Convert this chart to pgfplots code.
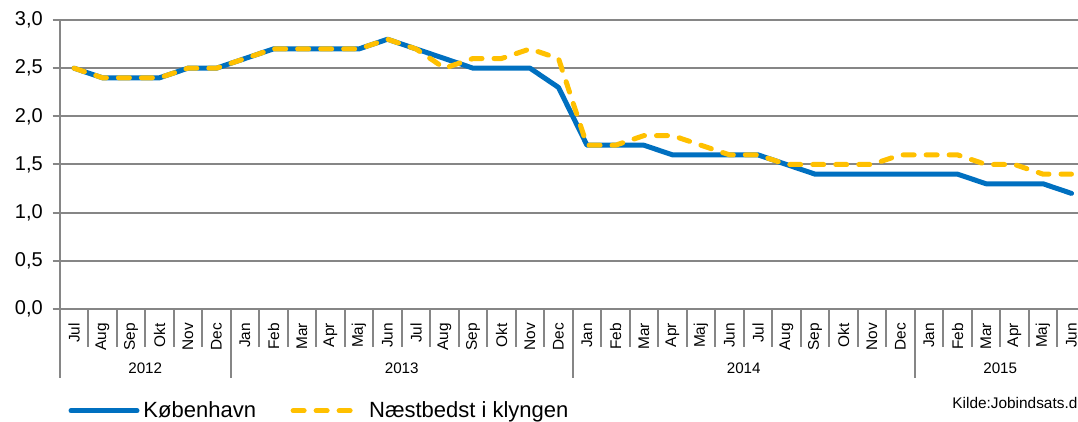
\documentclass[border=0pt]{standalone}
\usepackage{fontspec}
\setmainfont{Liberation Sans}
\usepackage{pgfplots}
\usepackage{pgfplotstable}
\pgfplotsset{compat=1.18}

\definecolor{kbhblue}{RGB}{0,112,192}
\definecolor{klyngegul}{RGB}{255,192,0}
\definecolor{gitter}{RGB}{134,134,134}

% maaned 0 = jul 2012 ... 35 = jun 2015
\pgfplotstableread{
idx kbh  klynge
0   2.5  2.5
1   2.4  2.4
2   2.4  2.4
3   2.4  2.4
4   2.5  2.5
5   2.5  2.5
6   2.6  2.6
7   2.7  2.7
8   2.7  2.7
9   2.7  2.7
10  2.7  2.7
11  2.8  2.8
12  2.7  2.7
13  2.6  2.5
14  2.5  2.6
15  2.5  2.6
16  2.5  2.7
17  2.3  2.6
18  1.7  1.7
19  1.7  1.7
20  1.7  1.8
21  1.6  1.8
22  1.6  1.7
23  1.6  1.6
24  1.6  1.6
25  1.5  1.5
26  1.4  1.5
27  1.4  1.5
28  1.4  1.5
29  1.4  1.6
30  1.4  1.6
31  1.4  1.6
32  1.3  1.5
33  1.3  1.5
34  1.3  1.4
35  1.2  1.4
}\data

\begin{document}
\begin{tikzpicture}
\begin{axis}[
    at={(29.875pt,56.5pt)}, anchor=south west,
    scale only axis, width=513pt, height=144.5pt,
    xmin=-0.5, xmax=35.5, ymin=0, ymax=3,
    axis x line*=bottom, axis y line*=left,
    axis line style={draw=gitter, line width=1pt, -},
    ytick={0,0.5,1,1.5,2,2.5,3},
    /pgf/number format/.cd, fixed, fixed zerofill, precision=1, use comma, assume math mode=true,
    /pgfplots/.cd,
    yticklabel style={font=\fontsize{10}{12}\selectfont, text=black, xshift=-1.5pt},
    ymajorgrids, major grid style={draw=gitter, line width=1pt},
    ytick style={draw=gitter, line width=1pt},
    tick align=outside, major tick length=3.5pt,
    xtick={0,...,35},
    xticklabels={Jul,Aug,Sep,Okt,Nov,Dec,Jan,Feb,Mar,Apr,Maj,Jun,Jul,Aug,Sep,Okt,Nov,Dec,Jan,Feb,Mar,Apr,Maj,Jun,Jul,Aug,Sep,Okt,Nov,Dec,Jan,Feb,Mar,Apr,Maj,Jun},
    xtick style={draw=none},
    xticklabel style={rotate=90, anchor=east, font=\fontsize{7.7}{9}\selectfont},
    clip=false,
    legend columns=2,
    legend style={at={(0.00853,-0.3519)}, anchor=west, draw=none, fill=none,
        inner sep=0pt, outer sep=0pt, font=\fontsize{11}{13}\selectfont,
        /tikz/every even column/.append style={column sep=15.3pt}},
]
\pgfplotsinvokeforeach{-0.5,0.5,...,35.5}{
  \draw[gitter, line width=1pt] (axis cs:#1,0) -- ++(0pt,-19pt);
}
\pgfplotsinvokeforeach{-0.5,5.5,17.5,29.5,35.5}{
  \draw[gitter, line width=1pt] (axis cs:#1,0) -- ++(0pt,-34.5pt);
}
\node[font=\fontsize{7.6}{9}\selectfont, yshift=-29.5pt] at (axis cs:2.5,0) {2012};
\node[font=\fontsize{7.6}{9}\selectfont, yshift=-29.5pt] at (axis cs:11.5,0) {2013};
\node[font=\fontsize{7.6}{9}\selectfont, yshift=-29.5pt] at (axis cs:23.5,0) {2014};
\node[font=\fontsize{7.6}{9}\selectfont, yshift=-29.5pt] at (axis cs:32.5,0) {2015};

\addplot[kbhblue, line width=2.5pt, line join=round, line cap=round,
  legend image code/.code={\draw[kbhblue, line width=2.5pt, line cap=round] (0pt,0pt) -- (33pt,0pt);}]
  table[x=idx, y=kbh] {\data};
\addlegendentry{København}
\addplot[klyngegul, line width=2.5pt, line join=round, line cap=round, dash pattern=on 5.5pt off 6pt,
  legend image code/.code={\draw[klyngegul, line width=2.5pt, line cap=round, dash pattern=on 5.5pt off 6pt] (0pt,0pt) -- (28.5pt,0pt); \path (34.75pt,0pt);}]
  table[x=idx, y=klynge] {\data};
\addlegendentry{Næstbedst i klyngen}
\end{axis}
\node[anchor=base west, inner sep=0pt, font=\fontsize{7.7}{9}\selectfont] at (476pt,6.5pt) {Kilde:Jobindsats.dk};
\pgfresetboundingbox
\path[use as bounding box] (0pt,0pt) rectangle (539pt,211pt);
\end{tikzpicture}
\end{document}
